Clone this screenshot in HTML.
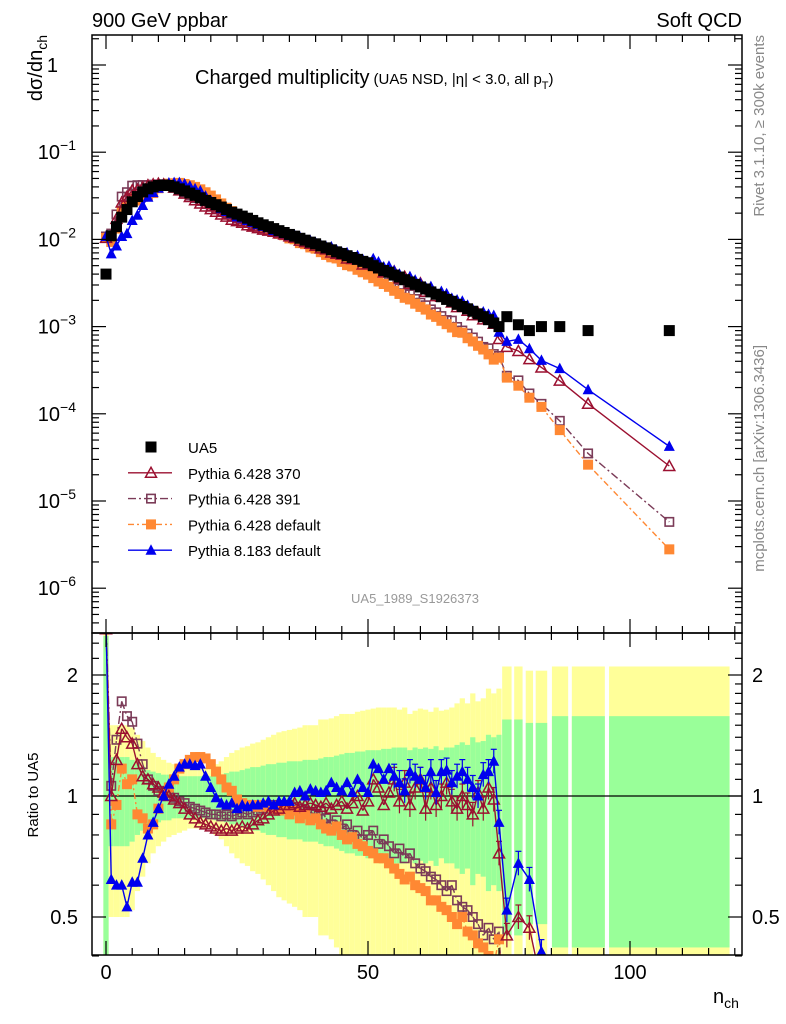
<!DOCTYPE html>
<html><head><meta charset="utf-8"><style>
html,body{margin:0;padding:0;background:#fff;width:786px;height:1024px;overflow:hidden}
svg{display:block;font-family:"Liberation Sans",Arial,sans-serif}
</style></head><body>
<svg id="chart" width="786" height="1024" viewBox="0 0 786 1024" xmlns="http://www.w3.org/2000/svg">
<defs>
<clipPath id="clipMain"><rect x="92" y="35" width="650" height="598"/></clipPath>
<clipPath id="clipRatio"><rect x="92" y="633" width="650" height="322"/></clipPath>
</defs>
<text x="92" y="27" font-size="20">900 GeV ppbar</text>
<text x="742" y="27" font-size="20" text-anchor="end">Soft QCD</text>
<g id="bands" clip-path="url(#clipRatio)"></g>
<g id="gridlines"></g>
<g id="series"></g>
<rect x="92" y="35" width="650" height="598" fill="none" stroke="#000" stroke-width="1.5"/>
<rect x="92" y="633" width="650" height="322" fill="none" stroke="#000" stroke-width="1.5"/>
<g id="ticks"></g>
<text x="195" y="84" font-size="20">Charged multiplicity<tspan font-size="15" dx="4">(UA5 NSD, |η| &lt; 3.0, all p</tspan><tspan font-size="11" dy="5">T</tspan><tspan font-size="15" dy="-5">)</tspan></text>
<text transform="translate(42,35) rotate(-90)" font-size="20" text-anchor="end">dσ/dn<tspan font-size="14" dy="5">ch</tspan></text>
<text transform="translate(38,795) rotate(-90)" font-size="15" text-anchor="middle">Ratio to UA5</text>
<text x="713" y="1003" font-size="20">n<tspan font-size="14" dy="5">ch</tspan></text>
<text transform="translate(764,35) rotate(-90)" font-size="15" fill="#888" text-anchor="end">Rivet 3.1.10, ≥ 300k events</text>
<text transform="translate(764,345) rotate(-90)" font-size="15" fill="#888" text-anchor="end">mcplots.cern.ch [arXiv:1306.3436]</text>
<text x="415" y="603" font-size="13" fill="#999" text-anchor="middle">UA5_1989_S1926373</text>
<g id="legend"></g>
</svg>
<script>
const nVals=[0,1,2,3,4,5,6,7,8,9,10,11,12,13,14,15,16,17,18,19,20,21,22,23,24,25,26,27,28,29,30,31,32,33,34,35,36,37,38,39,40,41,42,43,44,45,46,47,48,49,50,51,52,53,54,55,56,57,58,59,60,61,62,63,64,65,66,67,68,69,70,71,72,73,74,75,76.5,78.7,80.8,83.1,86.6,92,107.5];
const highBinLo=[75.6,77.9,80.1,82,85.1,88.9,96];
const highBinHi=[77.4,79.5,81.5,84.2,88.2,95.2,119];
const ua5=[4.0e-3,1.1e-2,1.4e-2,1.8e-2,2.2e-2,2.7e-2,3.1e-2,3.5e-2,3.8e-2,4.0e-2,4.15e-2,4.2e-2,4.15e-2,4.0e-2,3.8e-2,3.6e-2,3.4e-2,3.2e-2,3.0e-2,2.8e-2,2.65e-2,2.5e-2,2.35e-2,2.2e-2,2.05e-2,1.95e-2,1.85e-2,1.75e-2,1.65e-2,1.55e-2,1.47e-2,1.40e-2,1.33e-2,1.26e-2,1.20e-2,1.14e-2,1.09e-2,1.03e-2,9.8e-3,9.3e-3,8.9e-3,8.4e-3,8.0e-3,7.6e-3,7.2e-3,6.9e-3,6.5e-3,6.2e-3,5.9e-3,5.6e-3,5.4e-3,5.0e-3,4.7e-3,4.4e-3,4.2e-3,3.9e-3,3.7e-3,3.45e-3,3.25e-3,3.05e-3,2.85e-3,2.7e-3,2.5e-3,2.35e-3,2.2e-3,2.05e-3,1.95e-3,1.8e-3,1.7e-3,1.6e-3,1.5e-3,1.4e-3,1.3e-3,1.2e-3,1.1e-3,1.0e-3,1.3e-3,1.05e-3,0.9e-3,1.0e-3,1.0e-3,0.9e-3,0.9e-3];
const ratioP8=[2.7,0.62,0.60,0.60,0.53,0.61,0.61,0.70,0.80,0.86,0.93,1.0,1.07,1.12,1.18,1.2,1.2,1.19,1.2,1.12,1.05,0.99,0.96,0.95,0.96,0.93,0.95,0.94,0.95,0.95,0.96,0.97,0.95,0.97,0.97,0.97,1.02,1.03,1.0,1.04,1.03,1.02,1.03,1.08,1.05,1.03,1.08,1.02,1.1,1.05,1.02,1.2,1.17,1.1,1.17,1.12,1.08,1.03,1.15,1.12,1.10,1.05,1.15,1.02,1.15,1.16,1.08,1.12,1.15,1.10,1.05,1.0,1.13,1.15,1.22,0.86,0.52,0.68,0.62,0.41,0.33,0.21,0.047];
const ratio370=[2.6,1.0,1.23,1.47,1.4,1.35,1.2,1.12,1.1,1.07,1.05,1.02,1.0,0.98,0.96,0.93,0.9,0.88,0.86,0.85,0.84,0.83,0.82,0.83,0.82,0.83,0.84,0.83,0.85,0.87,0.88,0.9,0.92,0.93,0.95,0.95,0.96,0.94,0.95,0.96,0.95,0.94,0.96,0.93,0.95,0.97,0.93,0.96,1.0,0.92,0.97,1.1,1.05,0.95,1.02,1.1,0.97,1.08,0.95,1.05,1.1,0.93,1.05,0.95,1.0,1.08,0.97,0.93,1.0,0.95,0.9,1.02,0.93,1.05,0.98,0.72,0.45,0.5,0.47,0.34,0.24,0.145,0.028];
const ratio391=[2.7,1.06,1.38,1.72,1.58,1.53,1.35,1.2,1.1,1.06,1.03,1.02,1.0,0.99,0.97,0.96,0.94,0.93,0.92,0.91,0.9,0.9,0.89,0.9,0.89,0.9,0.91,0.9,0.91,0.92,0.93,0.94,0.95,0.94,0.95,0.95,0.94,0.93,0.92,0.91,0.9,0.92,0.88,0.85,0.87,0.83,0.85,0.8,0.82,0.78,0.8,0.82,0.76,0.78,0.75,0.72,0.74,0.7,0.72,0.68,0.66,0.65,0.63,0.62,0.6,0.58,0.6,0.55,0.53,0.52,0.5,0.48,0.45,0.47,0.44,0.46,0.21,0.23,0.19,0.13,0.083,0.039,0.0064];
const ratioDef=[2.6,0.85,0.95,1.17,1.07,1.1,0.9,0.88,0.83,0.85,0.93,1.0,1.05,1.1,1.17,1.2,1.23,1.25,1.25,1.24,1.2,1.15,1.1,1.05,1.03,0.98,0.96,0.95,0.95,0.94,0.95,0.94,0.93,0.92,0.93,0.9,0.92,0.88,0.9,0.87,0.88,0.85,0.83,0.82,0.84,0.8,0.78,0.79,0.76,0.75,0.73,0.72,0.7,0.7,0.68,0.66,0.64,0.62,0.63,0.6,0.59,0.58,0.55,0.55,0.53,0.52,0.5,0.48,0.5,0.46,0.45,0.43,0.42,0.4,0.38,0.44,0.2,0.2,0.17,0.12,0.065,0.029,0.0031];
const yellowErr=[2.0,0.5,0.5,0.5,0.5,0.48,0.42,0.37,0.32,0.28,0.25,0.23,0.21,0.2,0.19,0.18,0.17,0.17,0.17,0.17,0.17,0.2,0.22,0.25,0.28,0.3,0.32,0.33,0.35,0.36,0.38,0.4,0.42,0.44,0.45,0.46,0.47,0.48,0.5,0.5,0.5,0.55,0.55,0.56,0.58,0.6,0.6,0.6,0.62,0.63,0.64,0.65,0.66,0.66,0.66,0.66,0.64,0.66,0.6,0.63,0.65,0.64,0.62,0.66,0.63,0.64,0.66,0.7,0.75,0.7,0.8,0.72,0.75,0.85,0.8,0.85,1.1,1.1,1.05,1.05,1.1,1.1,1.1];
const greenErr=[1.5,0.25,0.25,0.25,0.25,0.23,0.2,0.18,0.16,0.15,0.14,0.13,0.13,0.12,0.12,0.12,0.12,0.12,0.12,0.12,0.12,0.13,0.13,0.14,0.15,0.15,0.16,0.17,0.18,0.18,0.19,0.2,0.2,0.21,0.21,0.22,0.22,0.22,0.23,0.23,0.23,0.24,0.25,0.25,0.26,0.27,0.28,0.28,0.29,0.29,0.3,0.3,0.3,0.31,0.31,0.32,0.32,0.32,0.3,0.32,0.31,0.32,0.31,0.33,0.3,0.32,0.32,0.34,0.36,0.34,0.4,0.36,0.37,0.42,0.4,0.42,0.55,0.55,0.52,0.52,0.58,0.58,0.58];
const xTicks=[0,50,100];
const mainDecades=[0,-1,-2,-3,-4,-5,-6];
const ratioTicks=[0.5,1,2];

const NS='http://www.w3.org/2000/svg';
const X0=106,XS=5.24;
const RTOP=634,RBOT=954;
function xs(n){return X0+XS*n;}
function ym(v){return 65-87.2*Math.log10(v);}
function yr(r){return r<=0?1000:796-121*Math.log2(r);}
function mk(tag,attrs,parent){const e=document.createElementNS(NS,tag);for(const k in attrs)e.setAttribute(k,attrs[k]);parent.appendChild(e);return e;}
const bands=document.getElementById('bands'),ser=document.getElementById('series'),tk=document.getElementById('ticks'),lg=document.getElementById('legend');

for(let i=0;i<nVals.length;i++){
  let lo,hi;
  if(i<76){lo=nVals[i]-0.5;hi=nVals[i]+0.5;}else{lo=highBinLo[i-76];hi=highBinHi[i-76];}
  const x1=xs(lo),x2=xs(hi);
  const y1=Math.max(yr(1+yellowErr[i]),RTOP-1),y2=Math.min(yr(1-yellowErr[i]),RBOT+1);
  const r=mk('rect',{x:x1,y:y1,width:x2-x1,height:y2-y1,fill:'#ffff99'},bands);
  
  
  const g1=Math.max(yr(1+greenErr[i]),RTOP-1),g2=Math.min(yr(1-greenErr[i]),RBOT+1);
  const g=mk('rect',{x:x1,y:g1,width:x2-x1,height:g2-g1,fill:'#99ff99'},bands);
  
  
}
const one=mk('line',{x1:92,x2:742,y1:yr(1),y2:yr(1),stroke:'#000','stroke-width':1.3},document.getElementById('gridlines'));



function marker(parent,type,color,x,y,s){
  let e;
  if(type==='sq') e=mk('rect',{x:x-s/2,y:y-s/2,width:s,height:s,fill:color},parent);
  else if(type==='osq') e=mk('rect',{x:x-s/2+0.8,y:y-s/2+0.8,width:s-1.6,height:s-1.6,fill:'none',stroke:color,'stroke-width':1.6},parent);
  else if(type==='tri') e=mk('polygon',{points:`${x},${y-s*0.6} ${x-s*0.55},${y+s*0.45} ${x+s*0.55},${y+s*0.45}`,fill:color},parent);
  else e=mk('polygon',{points:`${x},${y-s*0.55} ${x-s*0.55},${y+s*0.45} ${x+s*0.55},${y+s*0.45}`,fill:'none',stroke:color,'stroke-width':1.5},parent);
  return e;
}
// clip a polyline (array of [x,y]) to the band RTOP..RBOT; returns list of segments
function clipLine(pts,top,bot){
  const segs=[];
  for(let i=0;i<pts.length-1;i++){
    let [x1,y1]=pts[i],[x2,y2]=pts[i+1];
    if((y1<top&&y2<top)||(y1>bot&&y2>bot))continue;
    const f=(y)=>x1+(x2-x1)*(y-y1)/(y2-y1);
    if(y1<top){x1=f(top);y1=top;} else if(y1>bot){x1=f(bot);y1=bot;}
    if(y2<top){x2=x1+(x2-x1)*0;} 
    let X2=pts[i+1][0],Y2=pts[i+1][1];
    const g=(y)=>pts[i][0]+(pts[i+1][0]-pts[i][0])*(y-pts[i][1])/(pts[i+1][1]-pts[i][1]);
    if(Y2<top){X2=g(top);Y2=top;} else if(Y2>bot){X2=g(bot);Y2=bot;}
    segs.push([x1,y1,X2,Y2]);
  }
  return segs;
}
const series=[
 {name:'pythia-6428-391',ratio:ratio391,color:'#7b3b58',type:'osq',dash:'8,3,2,3'},
 {name:'pythia-6428-default',ratio:ratioDef,color:'#ff8833',type:'sq',dash:'6,3,2,3'},
 {name:'pythia-6428-370',ratio:ratio370,color:'#9b1030',type:'otri',dash:''},
 {name:'pythia-8183-default',ratio:ratioP8,color:'#0000ee',type:'tri',dash:''}
];
const gm=mk('g',{'clip-path':'url(#clipMain)'},ser);
const gr=mk('g',{'clip-path':'url(#clipRatio)'},ser);
series.forEach(s=>{
  const pm=nVals.map((n,i)=>xs(n)+','+ym(ua5[i]*s.ratio[i])).join(' ');
  const lm=mk('polyline',{points:pm,fill:'none',stroke:s.color,'stroke-width':1.4,'stroke-dasharray':s.dash},gm);
  
  
  const rp=nVals.map((n,i)=>[xs(n),yr(s.ratio[i])]);
  const gl=mk('g',{},gr);
  
  
  clipLine(rp,RTOP-2,RBOT+2).forEach(sg=>{
    mk('line',{x1:sg[0],y1:sg[1],x2:sg[2],y2:sg[3],stroke:s.color,'stroke-width':1.4,'stroke-dasharray':s.dash},gl);
  });
  nVals.forEach((n,i)=>{
    const m=marker(gm,s.type,s.color,xs(n),ym(ua5[i]*s.ratio[i]),10);
    
    
    const y=yr(s.ratio[i]);
    if(y<RTOP-6||y>RBOT+6)return;
    if(n>=55 && (s.type==='tri'||s.type==='otri')){
      const ya=Math.max(y-12,RTOP),yb=Math.min(y+12,RBOT);
      mk('line',{x1:xs(n),x2:xs(n),y1:ya,y2:yb,stroke:s.color,'stroke-width':1.2},gr);
      mk('line',{x1:xs(n)-3,x2:xs(n)+3,y1:ya,y2:ya,stroke:s.color,'stroke-width':1.2},gr);
    }
    const r=marker(gr,s.type,s.color,xs(n),y,10);
    
    
  });
});
nVals.forEach((n,i)=>{
  const m=marker(gm,'sq','#000',xs(n),ym(ua5[i]),11);
  
  
});

function tline(x1,y1,x2,y2,w){mk('line',{x1:x1,y1:y1,x2:x2,y2:y2,stroke:'#000','stroke-width':w||1.2},tk);}
for(let n=0;n<=120;n+=5){
  const x=xs(n),L=(n%50===0)?14:7;
  tline(x,955,x,955-L);tline(x,633,x,633+L);
  tline(x,633,x,633-L);tline(x,35,x,35+L);
}
xTicks.forEach(n=>{
  const t=mk('text',{x:xs(n),y:979,'font-size':20,'text-anchor':'middle'},tk);
  t.textContent=n;
  
  
});
for(let d=1;d>=-7;d--){
  for(let k=1;k<10;k++){
    const v=k*Math.pow(10,d);const y=ym(v);
    if(y<35||y>633)continue;
    const L=k===1?14:7;
    tline(92,y,92+L,y);tline(742,y,742-L,y);
  }
}
mainDecades.forEach(d=>{
  const y=ym(Math.pow(10,d));
  const t=mk('text',{x:d===0?58:76,y:y+7,'font-size':20,'text-anchor':'end'},tk);
  
  
  if(d===0){t.textContent='1';}
  else{t.textContent='10';const s=mk('tspan',{dy:-9,'font-size':14},t);s.textContent='−'+(-d);}
});
const rmin=[0.4,0.5,0.6,0.7,0.8,0.9,1,1.1,1.2,1.3,1.4,1.5,1.6,1.7,1.8,1.9,2,2.2,2.4];
rmin.forEach(r=>{const y=yr(r);const L=(r===0.5||r===1||r===2)?14:7;tline(92,y,92+L,y);tline(742,y,742-L,y);});
ratioTicks.forEach(r=>{
  const y=yr(r)+7;
  const t=mk('text',{x:78,y:y,'font-size':20,'text-anchor':'end'},tk);t.textContent=r;
  
  
  const t2=mk('text',{x:752,y:y,'font-size':20},tk);t2.textContent=r;
  
  
});

const leg=[
 {label:'UA5',color:'#000',type:'sq',dash:null},
 {label:'Pythia 6.428 370',color:'#9b1030',type:'otri',dash:''},
 {label:'Pythia 6.428 391',color:'#7b3b58',type:'osq',dash:'8,3,2,3'},
 {label:'Pythia 6.428 default',color:'#ff8833',type:'sq',dash:'6,3,2,3'},
 {label:'Pythia 8.183 default',color:'#0000ee',type:'tri',dash:''}
];
leg.forEach((e,i)=>{
  const y=447+25.8*i;
  const g=mk('g',{},lg);
  
  
  if(e.dash!==null) mk('line',{x1:128,x2:172,y1:y,y2:y,stroke:e.color,'stroke-width':1.4,'stroke-dasharray':e.dash},g);
  marker(g,e.type,e.color,151,y,e.type==='sq'&&i===0?11:10);
  const t=mk('text',{x:188,y:y+6,'font-size':15},g);t.textContent=e.label;
});
</script>
</body></html>
